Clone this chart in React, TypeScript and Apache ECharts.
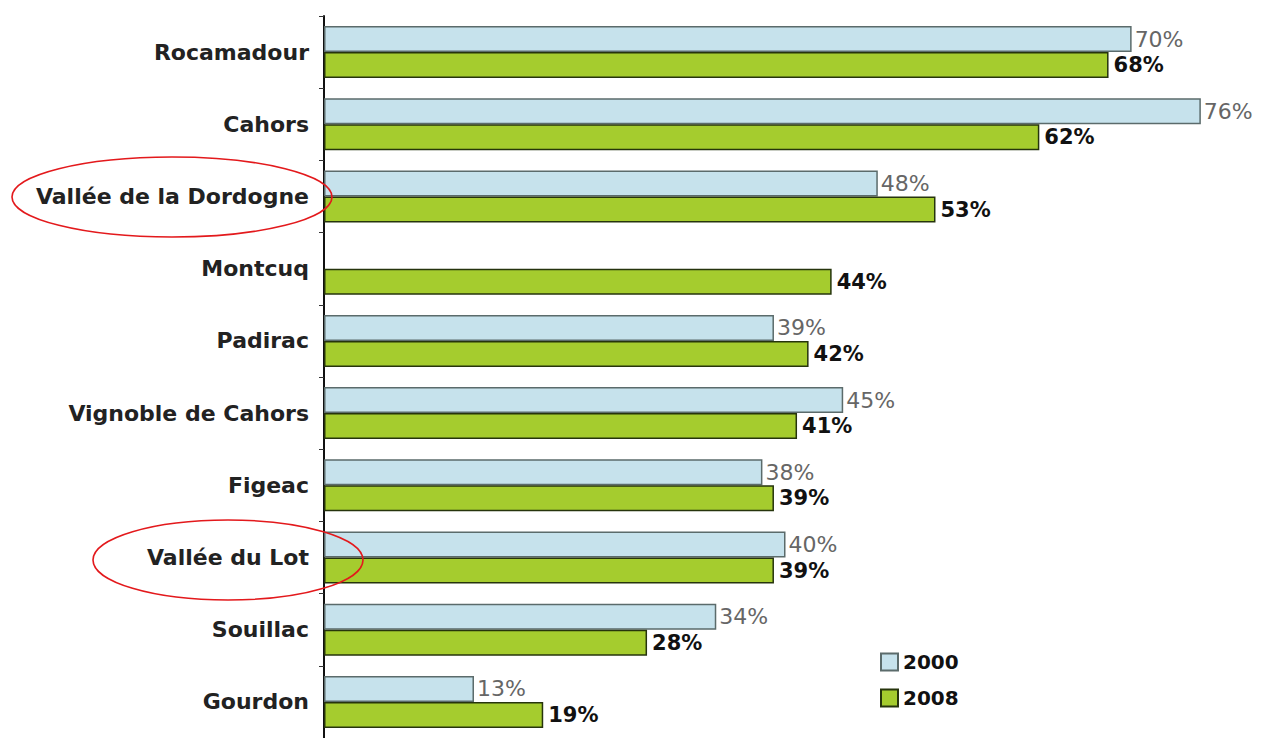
import React, { useEffect, useRef } from "react";
import * as echarts from "echarts";

const categories = [
  "Rocamadour",
  "Cahors",
  "Vallée de la Dordogne",
  "Montcuq",
  "Padirac",
  "Vignoble de Cahors",
  "Figeac",
  "Vallée du Lot",
  "Souillac",
  "Gourdon",
];
const values2000: (number | null)[] = [70, 76, 48, null, 39, 45, 38, 40, 34, 13];
const values2008: number[] = [68, 62, 53, 44, 42, 41, 39, 39, 28, 19];
const seriesNames = ["2000", "2008"];

const FONT = "'DejaVu Sans', Arial, sans-serif";

export default function App() {
  const ref = useRef<HTMLDivElement>(null);
  useEffect(() => {
    if (!ref.current) return;
    const chart = echarts.init(ref.current, null, { renderer: "svg" });
    chart.setOption({
      animation: false,
      backgroundColor: "#ffffff",
      grid: { left: 324, width: 923, top: 16, bottom: -3, containLabel: false },
      xAxis: {
        type: "value",
        min: 0,
        max: 80,
        show: false,
      },
      yAxis: {
        type: "category",
        data: categories,
        inverse: true,
        axisLine: { show: true, lineStyle: { color: "#111", width: 2 } },
        axisTick: { show: true, length: 5, lineStyle: { color: "#333", width: 1 } },
        axisLabel: {
          margin: 15,
          fontFamily: FONT,
          fontSize: 22,
          fontWeight: "bold",
          color: "#222",
        },
        splitLine: { show: false },
      },
      legend: {
        orient: "vertical",
        left: 875,
        top: 647,
        itemWidth: 17,
        itemHeight: 17,
        itemGap: 16,
        icon: "rect",
        textStyle: { fontFamily: FONT, fontSize: 20, fontWeight: "bold", color: "#111" },
        data: seriesNames,
      },
      series: [
        {
          name: seriesNames[0],
          type: "bar",
          data: values2000,
          barWidth: 26,
          barGap: "0%",
          itemStyle: { color: "#c6e2ec", borderColor: "#5b6b6b", borderWidth: 1.5 },
          label: {
            show: true,
            position: "right",
            distance: 3,
            formatter: "{c}%",
            fontFamily: FONT,
            fontSize: 22,
            color: "#666",
          },
        },
        {
          name: seriesNames[1],
          type: "bar",
          data: values2008,
          barWidth: 26,
          itemStyle: { color: "#a5cc2e", borderColor: "#26340c", borderWidth: 1.5 },
          label: {
            show: true,
            position: "right",
            distance: 5,
            formatter: "{c}%",
            fontFamily: FONT,
            fontSize: 21,
            fontWeight: "bold",
            color: "#111",
          },
        },
      ],
      graphic: [
        {
          type: "ellipse",
          shape: { cx: 172, cy: 197, rx: 160, ry: 40 },
          style: { fill: "none", stroke: "#e3191c", lineWidth: 1.6 },
          z: 100,
        },
        {
          type: "ellipse",
          shape: { cx: 228, cy: 560, rx: 135, ry: 40 },
          style: { fill: "none", stroke: "#e3191c", lineWidth: 1.6 },
          z: 100,
        },
      ],
    });
    return () => chart.dispose();
  }, []);
  return (
    <div
      ref={ref}
      style={{ position: "absolute", left: 0, top: 0, width: 1264, height: 738 }}
    />
  );
}
